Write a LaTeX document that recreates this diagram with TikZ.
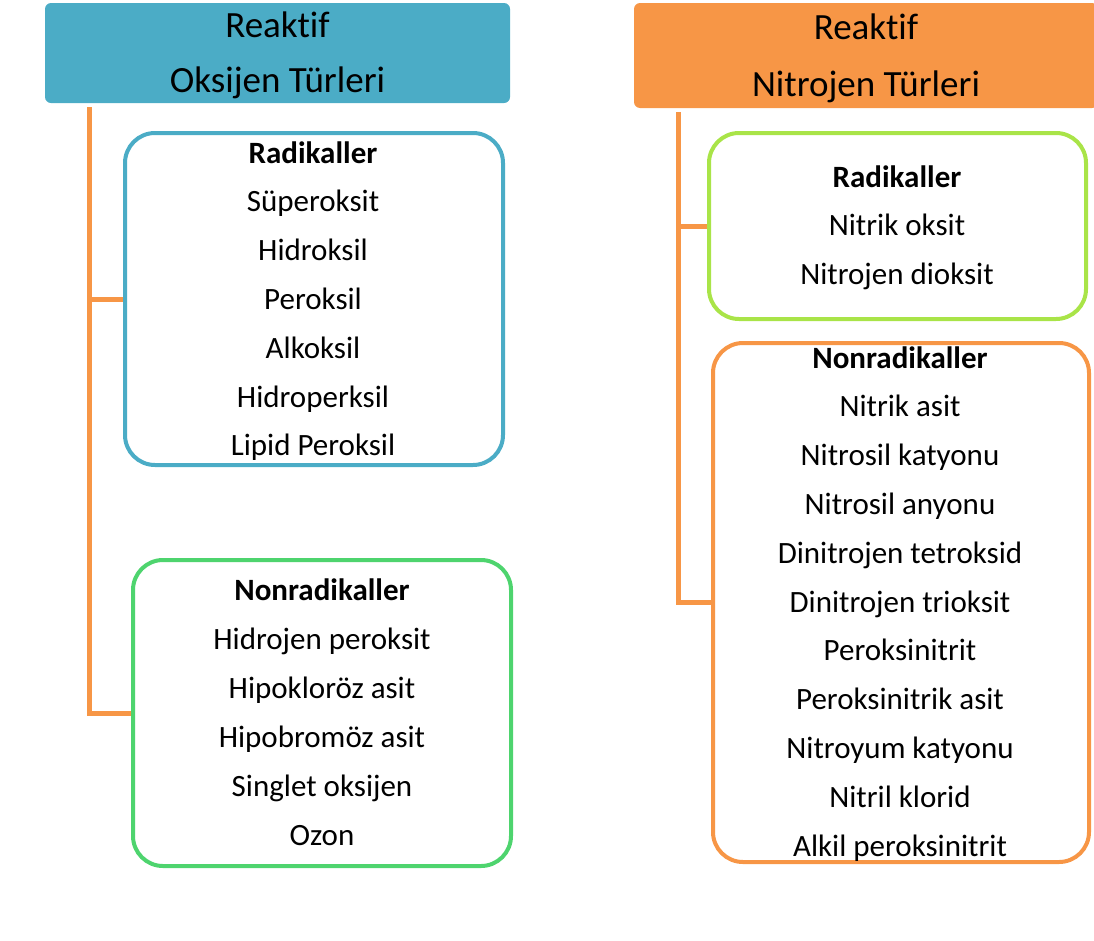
\documentclass[tikz,border=0pt]{standalone}
\usepackage{fontspec}
\setmainfont{Carlito}[Ligatures={NoCommon}]
\definecolor{oxblue}{RGB}{75,172,198}
\definecolor{norange}{RGB}{247,150,70}
\definecolor{lgreen}{RGB}{78,212,110}
\definecolor{lime}{RGB}{169,228,72}
\tikzset{
  hdr/.style={rectangle, rounded corners=6pt, inner sep=0pt},
  grp/.style={rectangle, draw, line width=4pt, rounded corners=30pt, fill=white, inner sep=0pt},
  conn/.style={draw=norange, line width=5pt},
  body/.style={font=\fontsize{31}{36}\selectfont, inner sep=0pt, anchor=base},
  head/.style={font=\fontsize{37}{42}\selectfont, inner sep=0pt, anchor=base},
  bodyb/.style={body, font=\fontsize{31}{36}\selectfont\bfseries},
}
\begin{document}
\begin{tikzpicture}[x=1pt,y=-1pt]
\useasboundingbox (0,0) rectangle (1094,940);
% headers
\node[hdr, fill=oxblue, minimum width=465pt, minimum height=100pt] (hdrL) at (277.5,53) {};
\node[hdr, fill=norange, minimum width=464pt, minimum height=105pt] (hdrR) at (866,55.5) {};
\node[head] (hL1) at (277.5,37) {Reaktif};
\node[head] (hL2) at (277.5,92) {Oksijen Türleri};
\node[head] (hR1) at (866,39) {Reaktif};
\node[head] (hR2) at (866,96) {Nitrojen Türleri};
% trunk coordinates
\coordinate (tL) at (89,107);
\coordinate (tR) at (678,112);
% boxes
\node[grp, draw=oxblue, minimum width=378pt, minimum height=332pt] (radL) at (314,299) {};
\node[grp, draw=lgreen, minimum width=378pt, minimum height=306pt] (nonL) at (322,713) {};
\node[grp, draw=lime, minimum width=377pt, minimum height=186pt] (radR) at (897.5,226) {};
\node[grp, draw=norange, minimum width=376pt, minimum height=519pt] (nonR) at (901,602.5) {};
% connectors
\draw[conn] (tL) |- (radL.west);
\draw[conn] (tL) |- (nonL.west);
\draw[conn] (tR) |- (radR.west);
\draw[conn] (tR) |- (nonR.west);
% left radicals
\node[bodyb] (rl0) at (313,163) {Radikaller};
\foreach \t [count=\i] in {Süperoksit,Hidroksil,Peroksil,Alkoksil,Hidroperksil,Lipid Peroksil}
  \node[body] (rl\i) at (313,163+48.8*\i) {\t};
% left nonradicals
\node[bodyb] (nl0) at (322,600) {Nonradikaller};
\foreach \t [count=\i] in {Hidrojen peroksit,Hipokloröz asit,Hipobromöz asit,Singlet oksijen,Ozon}
  \node[body] (nl\i) at (322,600+49*\i) {\t};
% right radicals
\node[bodyb] (rr0) at (897,187) {Radikaller};
\foreach \t [count=\i] in {Nitrik oksit,Nitrojen dioksit}
  \node[body] (rr\i) at (897,187+48.5*\i) {\t};
% right nonradicals
\node[bodyb] (nr0) at (900,368) {Nonradikaller};
\foreach \t [count=\i] in {Nitrik asit,Nitrosil katyonu,Nitrosil anyonu,Dinitrojen tetroksid,Dinitrojen trioksit,Peroksinitrit,Peroksinitrik asit,Nitroyum katyonu,Nitril klorid,Alkil peroksinitrit}
  \node[body] (nr\i) at (900,368+48.8*\i) {\t};
\end{tikzpicture}
\end{document}
